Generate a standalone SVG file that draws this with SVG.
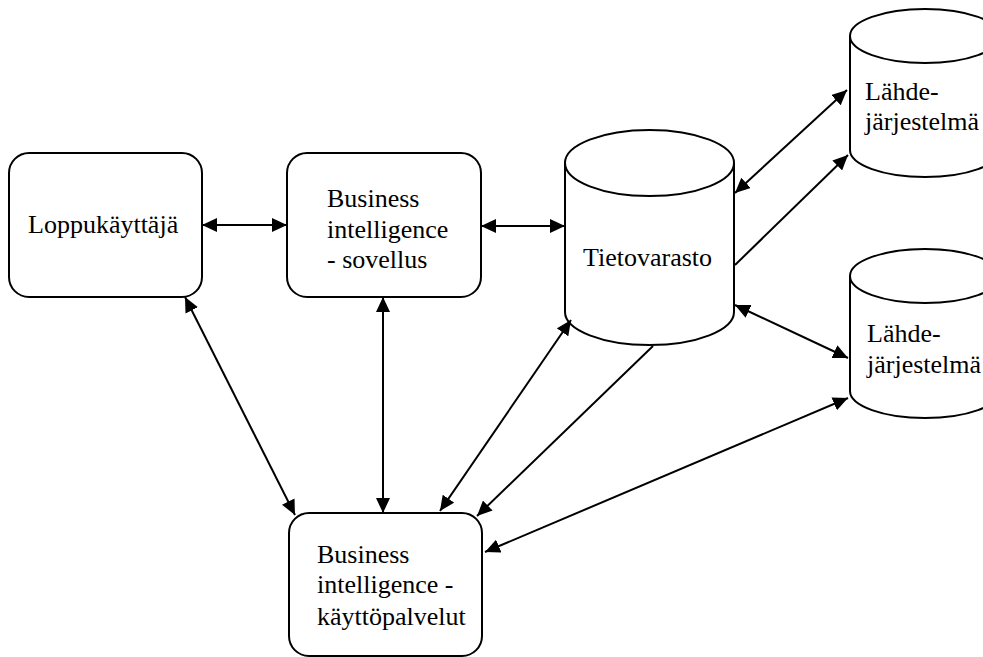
<svg xmlns="http://www.w3.org/2000/svg" width="983" height="657" viewBox="0 0 983 657">
  <style>
    .box { fill: #fff; stroke: #000; stroke-width: 2; }
    .cyl { fill: #fff; stroke: #000; stroke-width: 2; }
    .rim { fill: none; stroke: #000; stroke-width: 2; }
    .lbl { font-family: "Liberation Serif", "Times New Roman", serif; font-size: 26px; fill: #000; }
    .link { stroke: #000; stroke-width: 2; fill: none; }
    .both { marker-start: url(#head); marker-end: url(#head); }
    .one { marker-end: url(#head); }
  </style>
  <defs>
    <marker id="head" markerUnits="userSpaceOnUse" markerWidth="16" markerHeight="14" viewBox="0 0 16 14" refX="15" refY="7" orient="auto-start-reverse">
      <path d="M0,0 L15,7 L0,14 Z" fill="#000"/>
    </marker>
  </defs>

  <rect width="983" height="657" fill="#fff"/>

  <!-- End user -->
  <g id="loppukayttaja">
    <rect class="box" x="9" y="153" width="193" height="144" rx="20" ry="20"/>
    <text class="lbl" x="28" y="233">Loppukäyttäjä</text>
  </g>

  <!-- BI application -->
  <g id="bi-sovellus">
    <rect class="box" x="287" y="153" width="194" height="144" rx="20" ry="20"/>
    <text class="lbl" x="327" y="207">Business</text>
    <text class="lbl" x="327" y="238">intelligence</text>
    <text class="lbl" x="327" y="268">- sovellus</text>
  </g>

  <!-- Data warehouse -->
  <g id="tietovarasto">
    <path class="cyl" d="M565,163 A84.5,33 0 0 1 734,163 L734,312 A84.5,33 0 0 1 565,312 Z"/>
    <path class="rim" d="M565,163 A84.5,33 0 0 0 734,163"/>
    <text class="lbl" x="583" y="266">Tietovarasto</text>
  </g>

  <!-- Source system 1 -->
  <g id="lahde-1">
    <path class="cyl" d="M850,36 A75,27 0 0 1 1000,36 L1000,150 A75,27 0 0 1 850,150 Z"/>
    <path class="rim" d="M850,36 A75,27 0 0 0 1000,36"/>
    <text class="lbl" x="865" y="100">Lähde-</text>
    <text class="lbl" x="865" y="130">järjestelmä</text>
  </g>

  <!-- Source system 2 -->
  <g id="lahde-2">
    <path class="cyl" d="M850,276 A75,27 0 0 1 1000,276 L1000,391 A75,27 0 0 1 850,391 Z"/>
    <path class="rim" d="M850,276 A75,27 0 0 0 1000,276"/>
    <text class="lbl" x="867" y="342">Lähde-</text>
    <text class="lbl" x="867" y="373">järjestelmä</text>
  </g>

  <!-- BI services -->
  <g id="bi-kayttopalvelut">
    <rect class="box" x="289" y="513" width="193" height="143" rx="20" ry="20"/>
    <text class="lbl" x="317" y="563">Business</text>
    <text class="lbl" x="317" y="593">intelligence -</text>
    <text class="lbl" x="317" y="625">käyttöpalvelut</text>
  </g>

  <!-- Connectors -->
  <g id="connectors">
    <line class="link both" x1="202" y1="225" x2="287" y2="225"/>
    <line class="link both" x1="481" y1="226" x2="565" y2="226"/>
    <line class="link both" x1="185" y1="297" x2="295" y2="515"/>
    <line class="link both" x1="383" y1="297" x2="383" y2="513"/>
    <line class="link both" x1="571" y1="320" x2="440" y2="511"/>
    <line class="link one" x1="653" y1="346" x2="477" y2="516"/>
    <line class="link both" x1="485" y1="552" x2="848" y2="398"/>
    <line class="link both" x1="735" y1="305" x2="848" y2="358"/>
    <line class="link both" x1="735" y1="193" x2="847" y2="90"/>
    <line class="link one" x1="735" y1="265" x2="848" y2="155"/>
  </g>
</svg>
